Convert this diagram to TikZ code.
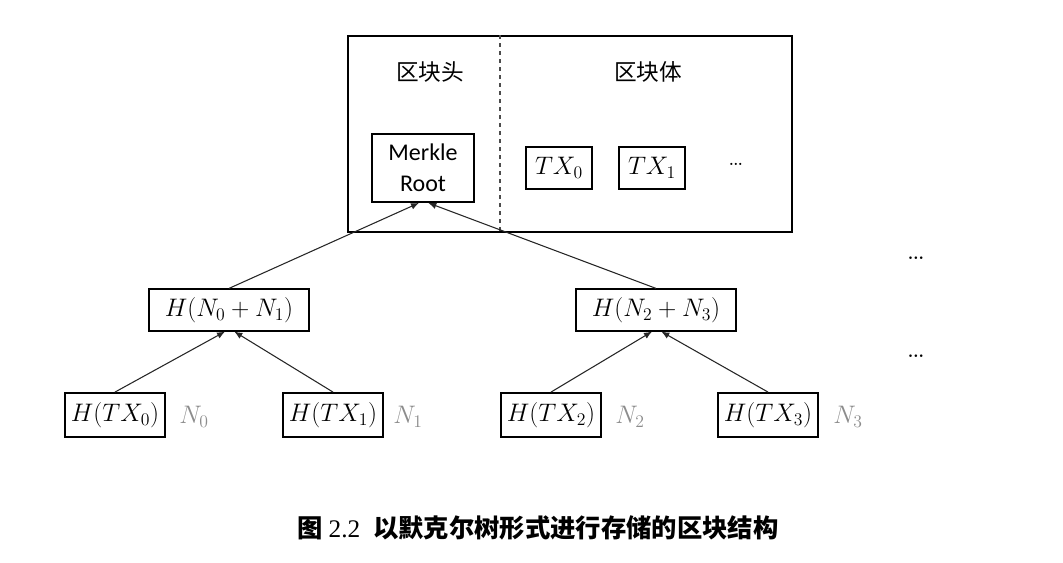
\RequirePackage{fix-cm}
\documentclass[tikz,border=0pt]{standalone}
\usepackage{fontspec}
\setsansfont{Carlito}
\newfontfamily\cjk{Noto Sans CJK SC}
\newfontfamily\capnum{Liberation Serif}
\usetikzlibrary{arrows.meta,positioning}

\begin{document}
\begin{tikzpicture}[x=.75pt,y=-.75pt,
  hashbox/.style={draw,line width=1.4pt,inner sep=2pt,font=\fontsize{19}{22}\selectfont},
  nlabel/.style={text=black!45,font=\fontsize{19}{22}\selectfont},
  link/.style={-{Latex[length=6pt,width=5pt]},black!85,line width=.8pt},
  parttitle/.style={font=\cjk\fontsize{17}{20}\selectfont}]
\useasboundingbox (0,0) rectangle (1063,563);
% block with header and body
\node[draw,line width=1.4pt,minimum width=333pt,minimum height=147pt] (block) at (570,134) {};
\draw[dashed,black!70,line width=.8pt] (500,0 |- block.north) -- (500,0 |- block.south);
\node[parttitle] (head) at (430,72) {区块头};
\node[parttitle] (body) at (648,72) {区块体};
\node[hashbox,font=\sffamily\fontsize{18}{23}\selectfont,align=center,minimum width=77pt,minimum height=51pt] (mroot) at (423,168) {Merkle\\Root};
\node[hashbox,minimum width=50pt,minimum height=31pt] (tx0) at (559,168) {$TX_0$};
\node[hashbox,minimum width=50pt,minimum height=31pt] (tx1) at (652,168) {$TX_1$};
\node (txdots) at (736,164) {\fontsize{20}{22}\selectfont\ldots};
% merkle tree
\node[hashbox,minimum width=120pt,minimum height=31pt] (hn01) at (229,310) {$H(N_0+N_1)$};
\node[hashbox,minimum width=120pt,minimum height=31pt] (hn23) at (656,310) {$H(N_2+N_3)$};
\foreach \i/\x/\lx in {0/115/194,1/333/408,2/551/630,3/768/848}{
  \node[hashbox,minimum width=75pt,minimum height=33pt] (htx\i) at (\x,415) {$H(TX_\i)$};
  \node[nlabel] (n\i) at (\lx,417) {$N_\i$};
}
\draw[link] (hn01.north) -- ([xshift=-3pt]mroot.south);
\draw[link] (hn23.north) -- ([xshift=4pt]mroot.south);
\draw[link] (htx0.north) -- ([xshift=-3pt]hn01.south);
\draw[link] (htx1.north) -- ([xshift=4pt]hn01.south);
\draw[link] (htx2.north) -- ([xshift=-3pt]hn23.south);
\draw[link] (htx3.north) -- ([xshift=4pt]hn23.south);
\node (dotsa) at (916,258) {\fontsize{24}{26}\selectfont\ldots};
\node (dotsb) at (916,356) {\fontsize{24}{26}\selectfont\ldots};
% caption
\node[font=\cjk\bfseries\fontsize{19}{22}\selectfont] (caption) at (538,528) {图 {\capnum\mdseries 2.2}\enskip 以默克尔树形式进行存储的区块结构};
\end{tikzpicture}
\end{document}
